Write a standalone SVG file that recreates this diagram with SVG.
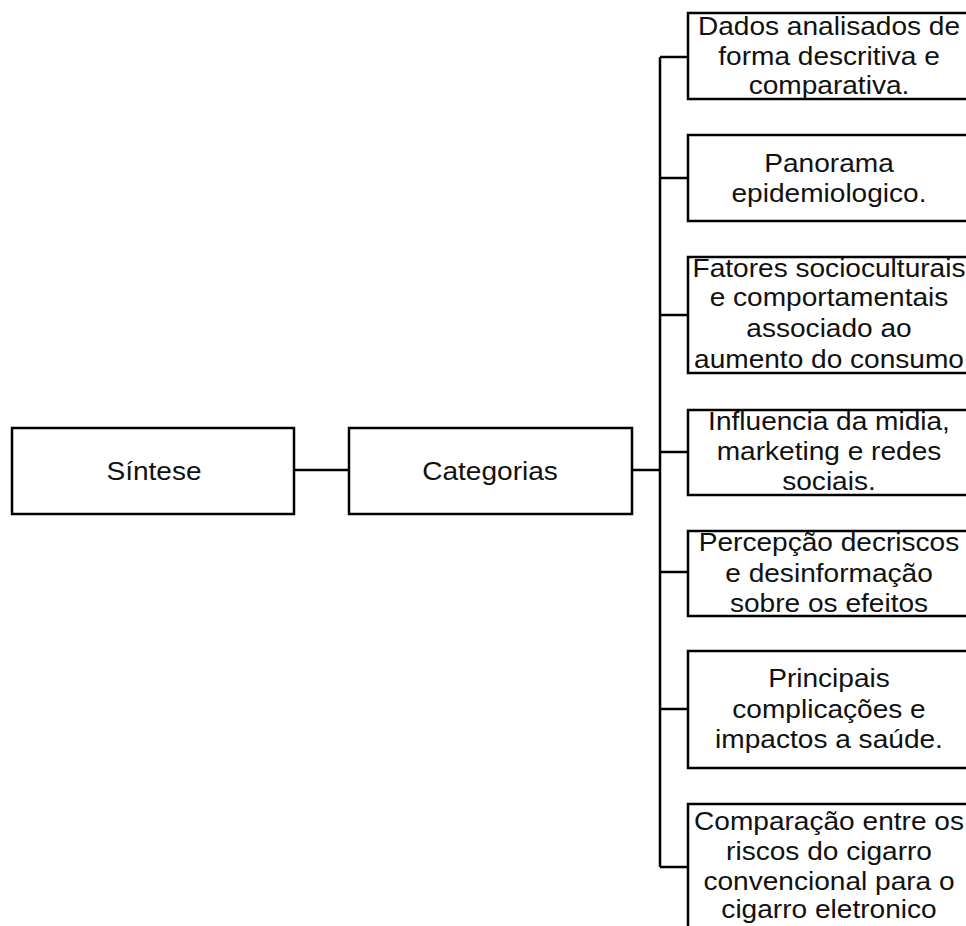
<svg xmlns="http://www.w3.org/2000/svg" width="966" height="926" viewBox="0 0 966 926">
<style>
.box{fill:#fff;stroke:#000;stroke-width:2.5}
.ln{fill:none;stroke:#000;stroke-width:2.5}
text{font-family:"Liberation Sans",Arial,sans-serif;font-size:26px;fill:#111;text-anchor:middle}
</style>
<rect width="966" height="926" fill="#fff"/>
<g id="connectors">
<path class="ln" d="M294 470H349M632 470H660M660 57V867M660 57H688M660 178H688M660 315H688M660 452H688M660 572H688M660 709H688M660 867H688"/>
</g>
<g id="sintese">
<rect class="box" x="12" y="428" width="282" height="86"/>
<g transform="translate(154 0) scale(1.08 1)"><text x="0" y="480">Síntese</text></g>
</g>
<g id="categorias">
<rect class="box" x="349" y="428" width="283" height="86"/>
<g transform="translate(490 0) scale(1.08 1)"><text x="0" y="480">Categorias</text></g>
</g>
<g id="n1">
<rect class="box" x="688" y="13" width="284" height="86"/>
<g transform="translate(829 0) scale(1.08 1)"><text x="0" y="35">Dados analisados de</text><text x="0" y="65">forma descritiva e</text><text x="0" y="94">comparativa.</text></g>
</g>
<g id="n2">
<rect class="box" x="688" y="135" width="284" height="86"/>
<g transform="translate(829 0) scale(1.08 1)"><text x="0" y="172">Panorama</text><text x="0" y="202">epidemiologico.</text></g>
</g>
<g id="n3">
<rect class="box" x="688" y="257" width="284" height="116"/>
<g transform="translate(829 0) scale(1.08 1)"><text x="0" y="277">Fatores socioculturais</text><text x="0" y="306">e comportamentais</text><text x="0" y="337">associado ao</text><text x="0" y="368">aumento do consumo</text></g>
</g>
<g id="n4">
<rect class="box" x="688" y="410" width="284" height="85"/>
<g transform="translate(829 0) scale(1.08 1)"><text x="0" y="430">Influencia da midia,</text><text x="0" y="460">marketing e redes</text><text x="0" y="490">sociais.</text></g>
</g>
<g id="n5">
<rect class="box" x="688" y="531" width="284" height="85"/>
<g transform="translate(829 0) scale(1.08 1)"><text x="0" y="551">Percepção decriscos</text><text x="0" y="582">e desinformação</text><text x="0" y="612">sobre os efeitos</text></g>
</g>
<g id="n6">
<rect class="box" x="688" y="651" width="284" height="117"/>
<g transform="translate(829 0) scale(1.08 1)"><text x="0" y="687">Principais</text><text x="0" y="718">complicações e</text><text x="0" y="748">impactos a saúde.</text></g>
</g>
<g id="n7">
<rect class="box" x="688" y="804" width="284" height="140"/>
<g transform="translate(829 0) scale(1.08 1)"><text x="0" y="830">Comparação entre os</text><text x="0" y="860">riscos do cigarro</text><text x="0" y="890">convencional para o</text><text x="0" y="918">cigarro eletronico</text></g>
</g>
</svg>
